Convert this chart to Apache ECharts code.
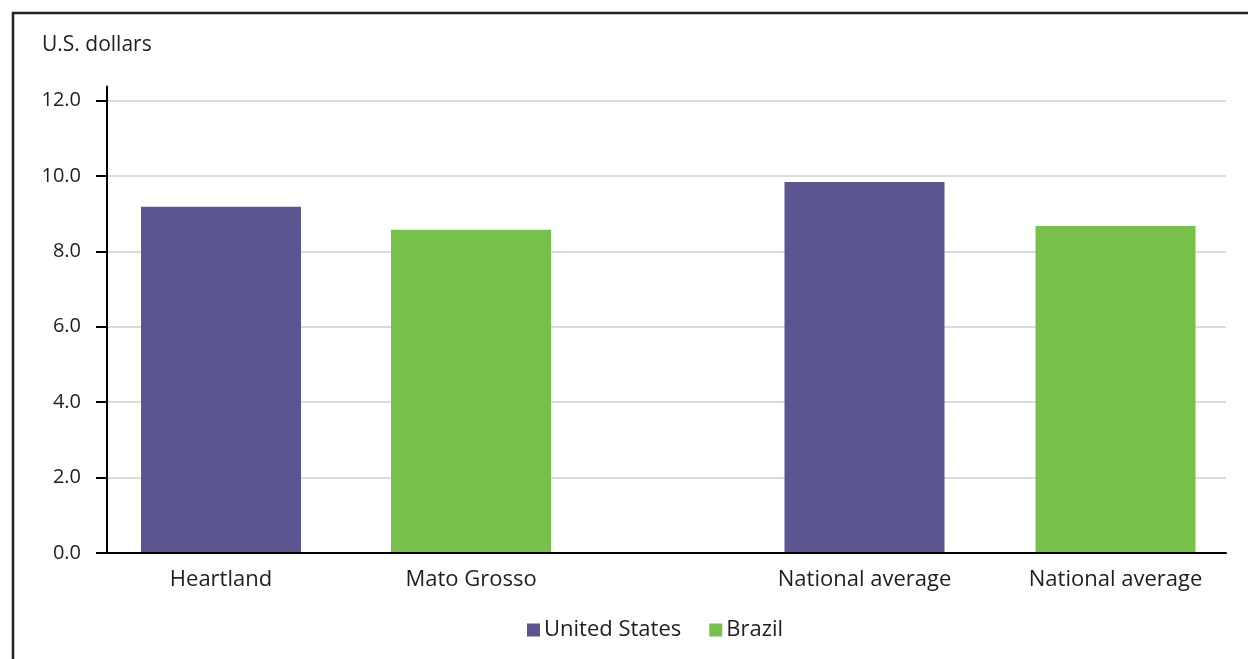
<!DOCTYPE html>
<html>
<head>
<meta charset="utf-8">
<script src="https://cdn.jsdelivr.net/npm/echarts@6/dist/echarts.min.js"></script>
<style>
html,body{margin:0;padding:0;background:#fff;}
#chart{width:1248px;height:659px;}
</style>
</head>
<body>
<div id="chart"></div>
<script>
// ---- data ----
var regionalCategories = ['Heartland', 'Mato Grosso'];
var nationalCategories = ['National average', 'National average'];
var usRegional = [9.18, null];
var brazilRegional = [null, 8.57];
var usNational = [9.84, null];
var brazilNational = [null, 8.67];
var yTicks = [0, 2, 4, 6, 8, 10, 12];
var seriesNames = ['United States', 'Brazil'];
var unitLabel = 'U.S. dollars';

// ---- styles ----
var PURPLE = '#5B5591';
var GREEN = '#77C14A';
var TEXT = '#1E1E1E';
var FONT = '"Open Sans", sans-serif';
var TOP = 100.5, BOTTOM = 106;

var chart = echarts.init(document.getElementById('chart'), null, {renderer: 'canvas'});

function hiddenY(idx) {
  return {type: 'value', gridIndex: idx, min: yTicks[0], max: yTicks[yTicks.length - 1], interval: 2,
    axisLine: {show: false}, axisTick: {show: false}, axisLabel: {show: false}, splitLine: {show: false}};
}
function catX(idx, cats) {
  return {type: 'category', gridIndex: idx, data: cats,
    axisLine: {show: false}, axisTick: {show: false}, splitLine: {show: false},
    axisLabel: {color: TEXT, fontFamily: FONT, fontSize: 22, margin: 16}};
}
function bar(name, data, axisIdx, color) {
  return {type: 'bar', name: name, data: data, xAxisIndex: axisIdx, yAxisIndex: axisIdx,
    barWidth: 160, barGap: '-100%', itemStyle: {color: color}, z: 2};
}

var option = {
  animation: false,
  backgroundColor: '#fff',
  textStyle: {fontFamily: FONT, color: TEXT},
  grid: [
    {left: 107, right: 22, top: TOP, bottom: BOTTOM},
    {left: 96, width: 500, top: TOP, bottom: BOTTOM},
    {left: 739, width: 502, top: TOP, bottom: BOTTOM},
    {left: 107, width: 10, top: 86.5, bottom: BOTTOM}
  ],
  xAxis: [
    {type: 'value', gridIndex: 0, min: 0, max: 1,
      axisLine: {show: true, onZero: false, lineStyle: {color: '#000', width: 2}},
      axisTick: {show: false}, axisLabel: {show: false}, splitLine: {show: false}, z: 3},
    catX(1, regionalCategories),
    catX(2, nationalCategories),
    {type: 'value', gridIndex: 3, show: false}
  ],
  yAxis: [
    {type: 'value', gridIndex: 0, min: yTicks[0], max: yTicks[yTicks.length - 1], interval: 2,
      axisLine: {show: false},
      axisTick: {show: true, length: 11, lineStyle: {color: '#000', width: 2}},
      axisLabel: {color: TEXT, fontFamily: FONT, fontSize: 20, margin: 26,
        formatter: function (v) { return v.toFixed(1); }},
      splitLine: {show: true, lineStyle: {color: '#CFCFCF', width: 1.5}}},
    hiddenY(1),
    hiddenY(2),
    {type: 'value', gridIndex: 3, min: 0, max: 1,
      axisLine: {show: true, lineStyle: {color: '#000', width: 2}},
      axisTick: {show: false}, axisLabel: {show: false}, splitLine: {show: false}, z: 3}
  ],
  legend: {
    data: seriesNames,
    left: 527, top: 619, padding: 0,
    icon: 'rect', itemWidth: 13, itemHeight: 13, itemGap: 28,
    textStyle: {color: TEXT, fontFamily: FONT, fontSize: 22, padding: [0, 0, 0, -1]}
  },
  graphic: [
    {type: 'rect', shape: {x: 13, y: 13, width: 1400, height: 800},
      style: {fill: 'none', stroke: '#222', lineWidth: 2.5}, silent: true},
    {type: 'text', left: 42, top: 35,
      style: {text: unitLabel, fill: TEXT, font: '21px "Open Sans", sans-serif'}}
  ],
  series: [
    bar(seriesNames[0], usRegional, 1, PURPLE),
    bar(seriesNames[1], brazilRegional, 1, GREEN),
    bar(seriesNames[0], usNational, 2, PURPLE),
    bar(seriesNames[1], brazilNational, 2, GREEN)
  ]
};
chart.setOption(option);
</script>
</body>
</html>
